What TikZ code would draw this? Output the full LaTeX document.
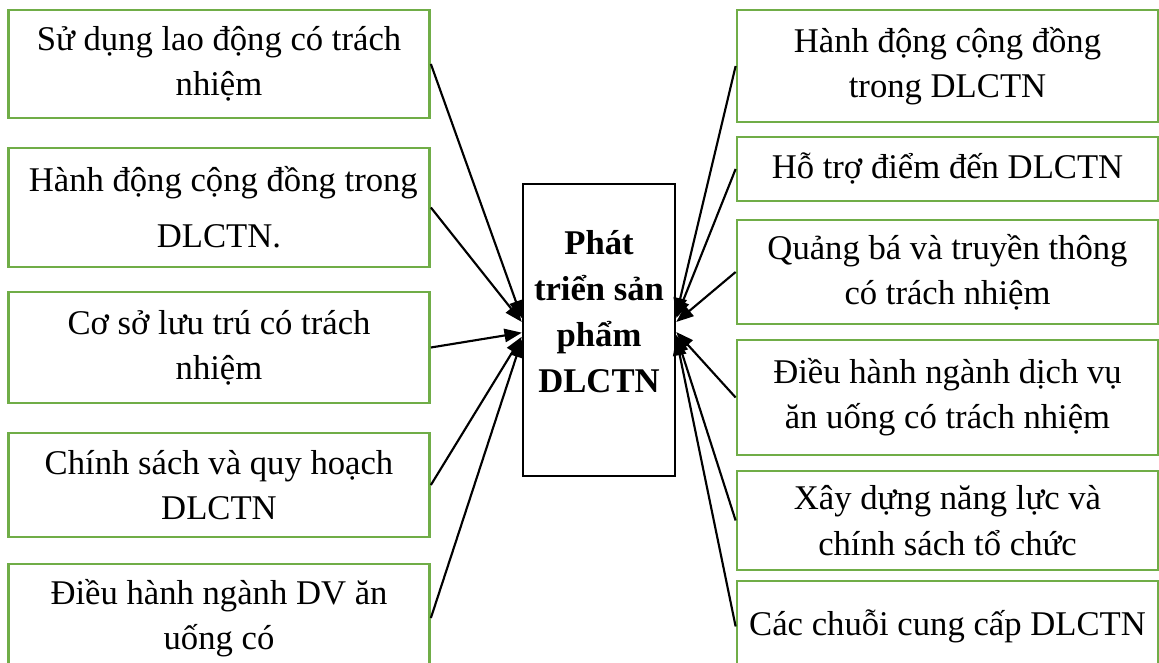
\documentclass[tikz,border=0pt]{standalone}
\usepackage{fontspec}
\setmainfont{Liberation Serif}
\usepackage{tikz}
\usetikzlibrary{arrows.meta}
\definecolor{boxgreen}{RGB}{112,173,71}

\begin{document}
\begin{tikzpicture}[x=0.75pt, y=-0.75pt,
    every node/.style={font=\fontsize{26}{34}\selectfont},
    sidebox/.style={draw=boxgreen, line width=1.8pt, rectangle, align=center, minimum width=316pt, inner sep=2pt},
    link/.style={-{Triangle[length=13pt,width=10pt]}, line width=1.6pt}]
    \useasboundingbox (0,0) rectangle (1159,663);

    % Central box
    \node[draw, rectangle, line width=1.8pt, align=center, minimum width=114pt, minimum height=219pt, font=\fontsize{26}{34.5}\selectfont\bfseries] (prod) at (599,330) {Phát\\triển sản\\phẩm\\DLCTN\\[-6pt]};

    % Left boxes
    \node[sidebox, minimum height=81pt] (l1) at (219,64) {Sử dụng lao động có trách\\nhiệm};
    \node[sidebox, minimum height=89pt, font=\fontsize{26}{42}\selectfont] (l2) at (219,207.5) {\ Hành động cộng đồng trong\\DLCTN.};
    \node[sidebox, minimum height=83pt] (l3) at (219,347.5) {Cơ sở lưu trú có trách\\nhiệm};
    \node[sidebox, minimum height=78pt] (l4) at (219,485) {Chính sách và quy hoạch\\DLCTN};
    \node[sidebox, minimum height=81pt] (l5) at (219,618) {Điều hành ngành DV ăn\\uống có};

    % Right boxes
    \node[sidebox, minimum height=84pt] (r1) at (947.5,66) {Hành động cộng đồng\\trong DLCTN};
    \node[sidebox, minimum height=48pt] (r2) at (947.5,169) {Hỗ trợ điểm đến DLCTN};
    \node[sidebox, minimum height=78pt] (r3) at (947.5,272) {Quảng bá và truyền thông\\có trách nhiệm};
    \node[sidebox, minimum height=86pt] (r4) at (947.5,397.5) {Điều hành ngành dịch vụ\\ăn uống có trách nhiệm};
    \node[sidebox, minimum height=74pt] (r5) at (947.5,520.5) {Xây dựng năng lực và\\chính sách tổ chức};
    \node[sidebox, minimum height=68pt] (r6) at (947.5,626.5) {Các chuỗi cung cấp DLCTN};

    % Edges
    \draw[link] (l1.east) -- ([yshift=9pt]prod.west);
    \draw[link] (l2.east) -- ([yshift=6pt]prod.west);
    \draw[link] (l3.east) -- ([yshift=-2pt]prod.west);
    \draw[link] (l4.east) -- ([yshift=-5pt]prod.west);
    \draw[link] (l5.east) -- ([yshift=-7.5pt]prod.west);
    \draw[link] (r1.west) -- ([yshift=11pt]prod.east);
    \draw[link] (r2.west) -- ([yshift=9pt]prod.east);
    \draw[link] (r3.west) -- ([yshift=6pt]prod.east);
    \draw[link] (r4.west) -- ([yshift=-1.5pt]prod.east);
    \draw[link] (r5.west) -- ([yshift=-3.75pt]prod.east);
    \draw[link] (r6.west) -- ([yshift=-6pt]prod.east);
\end{tikzpicture}
\end{document}
